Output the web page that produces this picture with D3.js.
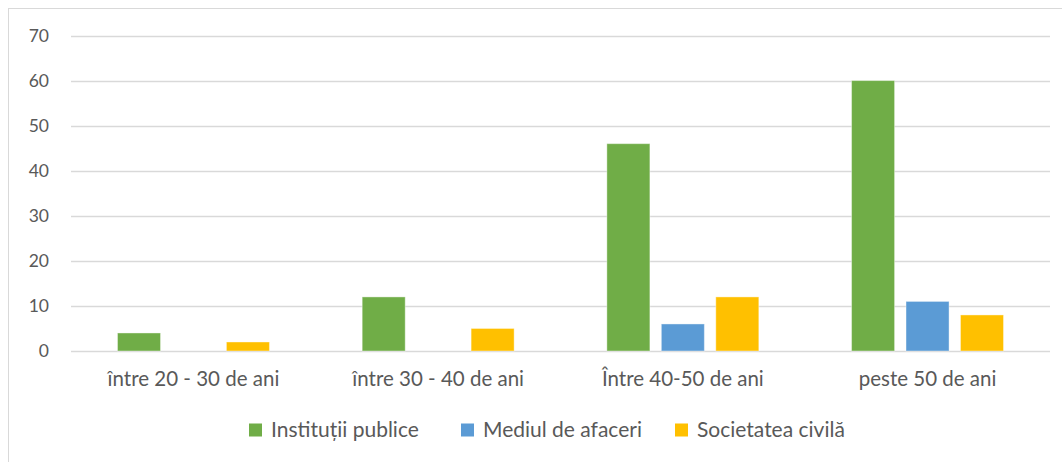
<!DOCTYPE html>
<html>
<head>
<meta charset="utf-8">
<script src="https://cdn.jsdelivr.net/npm/d3@7"></script>
<style>
  body { margin: 0; background: #fff; }
  text { font-family: Lato, "Open Sans", sans-serif; fill: #595959; }
</style>
</head>
<body>
<svg id="chart"></svg>
<script>
// data
var categories = ["între 20 - 30 de ani", "între 30 - 40 de ani", "Între 40-50 de ani", "peste 50 de ani"];
var seriesNames = ["Instituții publice", "Mediul de afaceri", "Societatea civilă"];
var institutii = [4, 12, 46, 60];
var mediul = [0, 0, 6, 11];
var societatea = [2, 5, 12, 8];
var yTicks = [0, 10, 20, 30, 40, 50, 60, 70];
var colors = ["#70AD47", "#5B9BD5", "#FFC000"];

var W = 1062, H = 462;
var margin = { left: 71, right: 12, top: 35.5, bottom: 111 };

var svg = d3.select("#chart").attr("width", W).attr("height", H);

// outer frame (right and bottom are cut off in the original)
svg.append("rect")
  .attr("x", 8.5).attr("y", 8.5)
  .attr("width", W).attr("height", H)
  .attr("fill", "none").attr("stroke", "#d9d9d9");

var x0 = d3.scaleBand()
  .domain(categories)
  .range([margin.left, W - margin.right])
  .paddingInner(0.379)
  .paddingOuter(0.19);

var x1 = d3.scaleBand()
  .domain(seriesNames)
  .range([0, x0.bandwidth()])
  .paddingInner(0.21);

var y = d3.scaleLinear()
  .domain([0, 70])
  .range([H - margin.bottom, margin.top]);

// grid lines
svg.append("g")
  .selectAll("line")
  .data(yTicks)
  .enter()
  .append("line")
  .attr("x1", margin.left)
  .attr("x2", W - margin.right)
  .attr("y1", (d) => Math.round(y(d)) + 0.5)
  .attr("y2", (d) => Math.round(y(d)) + 0.5)
  .attr("stroke", "#d9d9d9")
  .attr("stroke-width", 1.3);

// y axis labels
var yAxis = svg.append("g")
  .attr("transform", `translate(49,0)`)
  .call(d3.axisLeft(y).tickValues(yTicks).tickSize(0).tickPadding(0));
yAxis.select(".domain").remove();
yAxis.selectAll("text")
  .style("font-size", "17.5px")
  .style("font-family", "Lato, sans-serif")
  .attr("fill", "#595959");

// bars
var table = categories.map((c, i) => ({
  cat: c,
  vals: [institutii[i], mediul[i], societatea[i]]
}));

var groups = svg.append("g")
  .selectAll("g")
  .data(table)
  .enter()
  .append("g")
  .attr("transform", (d) => `translate(${x0(d.cat)},0)`);

groups.selectAll("rect")
  .data((d) => d.vals.map((v, j) => ({ name: seriesNames[j], v: v, j: j })))
  .enter()
  .filter((d) => d.v > 0)
  .append("rect")
  .attr("x", (d) => x1(d.name))
  .attr("width", x1.bandwidth())
  .attr("y", (d) => y(d.v))
  .attr("height", (d) => y(0) - y(d.v))
  .attr("fill", (d) => colors[d.j])
  .attr("stroke", "#ffffff")
  .attr("stroke-opacity", 0.4)
  .attr("stroke-width", 1);

// category labels
var xAxis = svg.append("g")
  .attr("transform", `translate(0,${y(0)})`)
  .call(d3.axisBottom(x0).tickSize(0).tickPadding(20));
xAxis.select(".domain").remove();
xAxis.selectAll("text")
  .style("font-size", "20.5px")
  .style("font-family", "Lato, sans-serif")
  .attr("fill", "#595959");

// legend
var legendX = [249, 461, 675];
var legend = svg.append("g")
  .selectAll("g")
  .data(seriesNames)
  .enter()
  .append("g")
  .attr("transform", (d, i) => `translate(${legendX[i]},430)`);

legend.append("rect")
  .attr("x", 0).attr("y", -6.5)
  .attr("width", 13).attr("height", 13)
  .attr("fill", (d, i) => colors[i]);

legend.append("text")
  .attr("x", 22)
  .attr("y", 0)
  .attr("dy", "0.35em")
  .style("font-size", "21px")
  .text((d) => d);
</script>
</body>
</html>
